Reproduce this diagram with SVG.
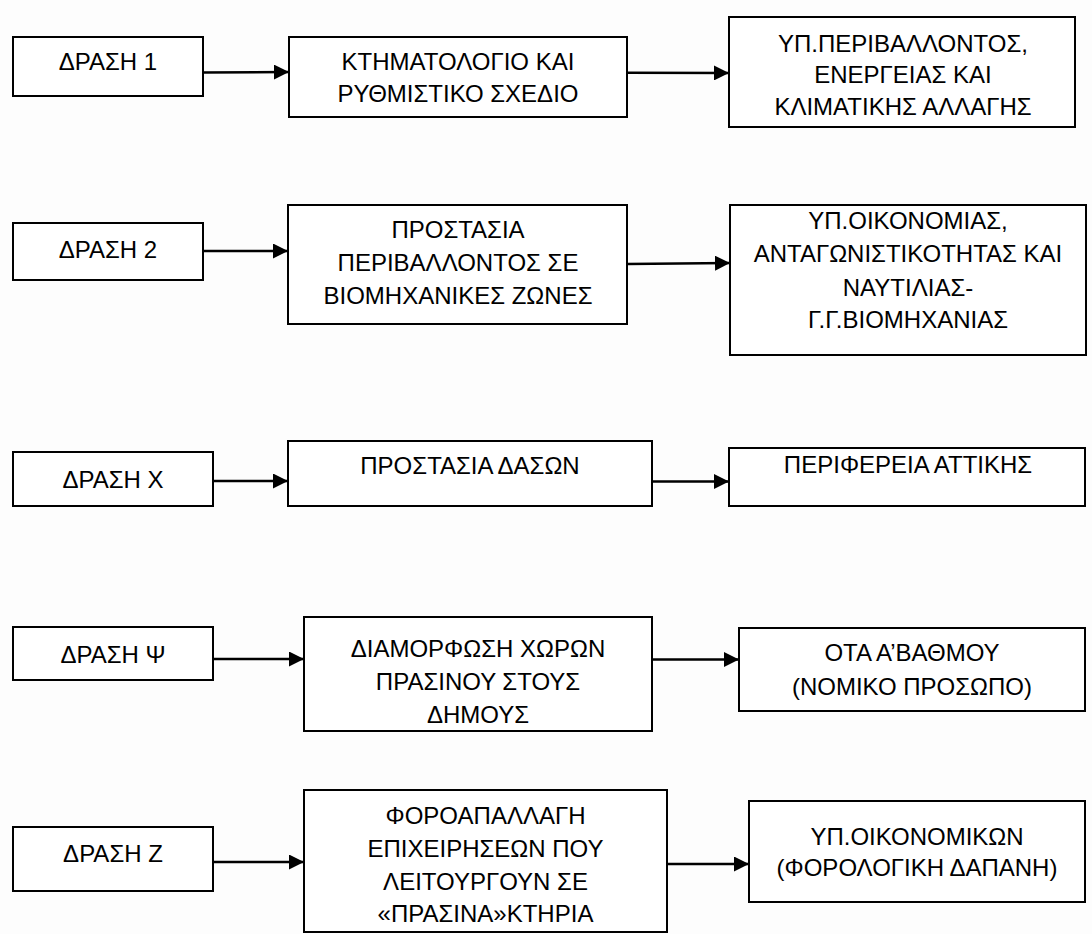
<svg xmlns="http://www.w3.org/2000/svg" width="1092" height="934" viewBox="0 0 1092 934">
<style>
.box{fill:#ffffff;stroke:#000;stroke-width:2}
.t{font-family:"Liberation Sans",Arial,sans-serif;font-size:24px;fill:#000;text-anchor:middle}
.c{fill:none;stroke:#000;stroke-width:2.5}
</style>
<defs>
<marker id="ah" viewBox="0 0 15 15" refX="15" refY="7.5" markerWidth="15" markerHeight="15" markerUnits="userSpaceOnUse" orient="auto">
<path d="M0,0 L15,7.5 L0,15 Z" fill="#000"/>
</marker>
</defs>
<rect x="0" y="0" width="1092" height="934" fill="#fdfdfd"/>
<g id="connectors">
<path class="c" d="M203,72.5 L289,72" marker-end="url(#ah)"/>
<path class="c" d="M627,72.7 L729,73" marker-end="url(#ah)"/>
<path class="c" d="M203,251 L288,251" marker-end="url(#ah)"/>
<path class="c" d="M627,264 L730,263" marker-end="url(#ah)"/>
<path class="c" d="M213,481 L288,481" marker-end="url(#ah)"/>
<path class="c" d="M652,481.5 L729,481.5" marker-end="url(#ah)"/>
<path class="c" d="M213,659 L304,659" marker-end="url(#ah)"/>
<path class="c" d="M652,659.5 L739,659.5" marker-end="url(#ah)"/>
<path class="c" d="M213,862 L304,862" marker-end="url(#ah)"/>
<path class="c" d="M667,864 L749,864" marker-end="url(#ah)"/>
</g>
<g id="n1a"><rect class="box" x="13" y="37" width="190" height="59"/><text class="t" x="108" y="70">ΔΡΑΣΗ 1</text></g>
<g id="n1b"><rect class="box" x="289" y="37" width="338" height="80"/><text class="t" x="458" y="70">ΚΤΗΜΑΤΟΛΟΓΙΟ ΚΑΙ</text><text class="t" x="458" y="101.7">ΡΥΘΜΙΣΤΙΚΟ ΣΧΕΔΙΟ</text></g>
<g id="n1c"><rect class="box" x="729" y="17" width="346" height="110"/><text class="t" x="903" y="51.7">ΥΠ.ΠΕΡΙΒΑΛΛΟΝΤΟΣ,</text><text class="t" x="903" y="83.3">ΕΝΕΡΓΕΙΑΣ ΚΑΙ</text><text class="t" x="903" y="115">ΚΛΙΜΑΤΙΚΗΣ ΑΛΛΑΓΗΣ</text></g>
<g id="n2a"><rect class="box" x="13" y="223" width="190" height="57"/><text class="t" x="108" y="258.4">ΔΡΑΣΗ 2</text></g>
<g id="n2b"><rect class="box" x="288" y="205" width="339" height="119"/><text class="t" x="458" y="238.4">ΠΡΟΣΤΑΣΙΑ</text><text class="t" x="458" y="270.7">ΠΕΡΙΒΑΛΛΟΝΤΟΣ ΣΕ</text><text class="t" x="458" y="304">ΒΙΟΜΗΧΑΝΙΚΕΣ ΖΩΝΕΣ</text></g>
<g id="n2c"><rect class="box" x="730" y="205" width="356" height="150"/><text class="t" x="908" y="228.7">ΥΠ.ΟΙΚΟΝΟΜΙΑΣ,</text><text class="t" x="908" y="262.2">ΑΝΤΑΓΩΝΙΣΤΙΚΟΤΗΤΑΣ ΚΑΙ</text><text class="t" x="908" y="295.6">ΝΑΥΤΙΛΙΑΣ-</text><text class="t" x="908" y="328.3">Γ.Γ.ΒΙΟΜΗΧΑΝΙΑΣ</text></g>
<g id="n3a"><rect class="box" x="13" y="452" width="200" height="54"/><text class="t" x="113" y="488.4">ΔΡΑΣΗ Χ</text></g>
<g id="n3b"><rect class="box" x="288" y="441" width="364" height="65"/><text class="t" x="470" y="474.4">ΠΡΟΣΤΑΣΙΑ ΔΑΣΩΝ</text></g>
<g id="n3c"><rect class="box" x="729" y="448" width="356" height="58"/><text class="t" x="908" y="473">ΠΕΡΙΦΕΡΕΙΑ ΑΤΤΙΚΗΣ</text></g>
<g id="n4a"><rect class="box" x="13" y="627" width="200" height="53"/><text class="t" x="113" y="662.8">ΔΡΑΣΗ Ψ</text></g>
<g id="n4b"><rect class="box" x="304" y="617" width="348" height="114"/><text class="t" x="478" y="656.5">ΔΙΑΜΟΡΦΩΣΗ ΧΩΡΩΝ</text><text class="t" x="478" y="689.8">ΠΡΑΣΙΝΟΥ ΣΤΟΥΣ</text><text class="t" x="478" y="723">ΔΗΜΟΥΣ</text></g>
<g id="n4c"><rect class="box" x="739" y="628" width="346" height="83"/><text class="t" x="912" y="661">ΟΤΑ Α’ΒΑΘΜΟΥ</text><text class="t" x="912" y="694.5">(ΝΟΜΙΚΟ ΠΡΟΣΩΠΟ)</text></g>
<g id="n5a"><rect class="box" x="13" y="827" width="200" height="64"/><text class="t" x="113" y="861.7">ΔΡΑΣΗ Ζ</text></g>
<g id="n5b"><rect class="box" x="304" y="790" width="363" height="142"/><text class="t" x="485.5" y="824">ΦΟΡΟΑΠΑΛΛΑΓΗ</text><text class="t" x="485.5" y="857">ΕΠΙΧΕΙΡΗΣΕΩΝ ΠΟΥ</text><text class="t" x="485.5" y="889.5">ΛΕΙΤΟΥΡΓΟΥΝ ΣΕ</text><text class="t" x="485.5" y="922">«ΠΡΑΣΙΝΑ»ΚΤΗΡΙΑ</text></g>
<g id="n5c"><rect class="box" x="749" y="801" width="336" height="101"/><text class="t" x="917" y="844.5">ΥΠ.ΟΙΚΟΝΟΜΙΚΩΝ</text><text class="t" x="917" y="876">(ΦΟΡΟΛΟΓΙΚΗ ΔΑΠΑΝΗ)</text></g>
</svg>
